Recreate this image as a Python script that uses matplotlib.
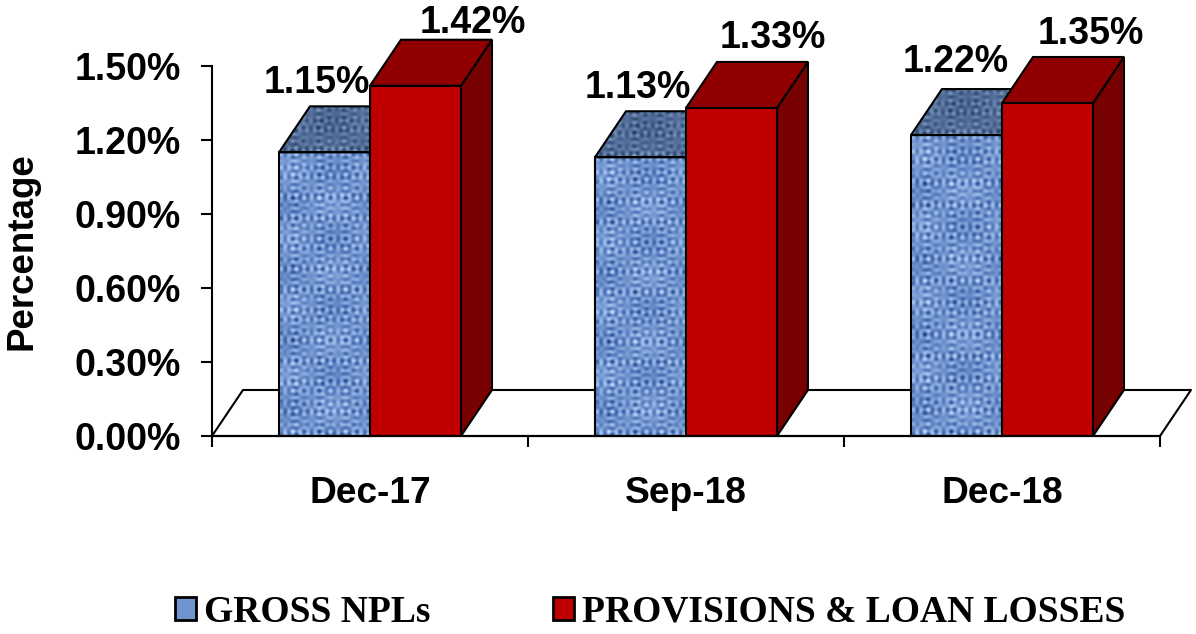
import matplotlib
matplotlib.use("Agg")
import matplotlib.pyplot as plt
import numpy as np
from matplotlib.colors import LinearSegmentedColormap
from matplotlib.patches import Patch, Polygon

categories = ["Dec-17", "Sep-18", "Dec-18"]
gross_npls = [1.15, 1.13, 1.22]
provisions = [1.42, 1.33, 1.35]
y_ticks = [0.0, 0.3, 0.6, 0.9, 1.2, 1.5]

FIG_W, FIG_H = 1196, 634
AX_L, AX_R, AX_T, AX_B = 212, 1160, 66, 436
BAR_W = 0.288
DEPTH_X = 0.098
DEPTH_Y = 0.1865
SANS = "Liberation Sans"
SERIF = "Liberation Serif"

# label nudges in pixels, relative to the front face top centre
blue_nudge = [(-8, 69), (-3, 69), (-1, 73)]
red_nudge = [(57, 63), (41, 70), (43, 69)]

front_cmap = LinearSegmentedColormap.from_list(
    "weave", ["#1f3f80", "#5379bb", "#8fb0e2", "#cfe0fa"]
)
top_cmap = LinearSegmentedColormap.from_list(
    "weave_top", ["#1f3156", "#415c86", "#6580aa", "#a3b6d3"]
)


def weave(w, h):
    # woven look for the blue faces, not data
    yy, xx = np.mgrid[0:h, 0:w]
    tex = (
        np.sin(xx * 0.83) * (np.sin(yy * 0.17) + np.sin(yy * 0.43 + 1))
        + np.sin(yy * 0.91) * (np.sin(xx * 0.13) + np.sin(xx * 0.37 + 2))
        + 0.5 * np.sin(xx * 0.07 + 1) * np.sin(yy * 0.09)
    )
    return tex


fig = plt.figure(figsize=(FIG_W / 100, FIG_H / 100), dpi=100)
ax = fig.add_axes([
    AX_L / FIG_W,
    1 - AX_B / FIG_H,
    (AX_R - AX_L) / FIG_W,
    (AX_B - AX_T) / FIG_H,
])

x = np.arange(len(categories))

# floor
ax.plot(
    [-0.5, -0.5 + DEPTH_X, 2.5 + DEPTH_X, 2.5],
    [0, DEPTH_Y, DEPTH_Y, 0],
    color="black", lw=1.5, clip_on=False, zorder=1,
)


def add_box(left, value, face, top, side, zorder):
    right = left + BAR_W
    side_poly = Polygon(
        [(right, 0), (right + DEPTH_X, DEPTH_Y),
         (right + DEPTH_X, value + DEPTH_Y), (right, value)],
        closed=True, facecolor=side, edgecolor="black", lw=1.5,
        clip_on=False, zorder=zorder,
    )
    top_poly = Polygon(
        [(left, value), (left + DEPTH_X, value + DEPTH_Y),
         (right + DEPTH_X, value + DEPTH_Y), (right, value)],
        closed=True, facecolor=top, edgecolor="black", lw=1.5,
        clip_on=False, zorder=zorder,
    )
    ax.add_patch(side_poly)
    ax.add_patch(top_poly)
    bar = ax.bar(
        left, value, BAR_W, align="edge", facecolor=face,
        edgecolor="black", lw=1.5, zorder=zorder + 0.2,
    )[0]
    return bar, top_poly


for i in x:
    bar, top_poly = add_box(
        i - BAR_W, gross_npls[i], "#6f94cf", "#47638f", "#2f4a78", 2
    )
    bar.set_clip_on(False)
    img = ax.imshow(
        weave(92, 290), cmap=front_cmap, extent=(i - BAR_W, i, 0, gross_npls[i]),
        aspect="auto", interpolation="bilinear", zorder=2.1,
    )
    img.set_clip_path(bar)
    bar.set_facecolor("none")
    img_top = ax.imshow(
        weave(125, 48), cmap=top_cmap,
        extent=(i - BAR_W, i + DEPTH_X, gross_npls[i], gross_npls[i] + DEPTH_Y),
        aspect="auto", interpolation="bilinear", zorder=2.1,
    )
    img_top.set_clip_path(top_poly)
    # outline again, the picture covers the polygon edge
    top_poly.set_zorder(2.15)
    top_poly.set_facecolor("none")

    add_box(i, provisions[i], "#c00000", "#900000", "#770000", 3)

ax.set_xlim(-0.5, 2.5)
ax.set_ylim(0, 1.5)

for i in x:
    ax.annotate(
        f"{gross_npls[i]:.2f}%", (i - BAR_W / 2, gross_npls[i]),
        xytext=(blue_nudge[i][0] * 0.72, blue_nudge[i][1] * 0.72),
        textcoords="offset points", ha="center", va="center",
        fontsize=27, fontweight="bold", family=SANS, zorder=5,
    )
    ax.annotate(
        f"{provisions[i]:.2f}%", (i + BAR_W / 2, provisions[i]),
        xytext=(red_nudge[i][0] * 0.72, red_nudge[i][1] * 0.72),
        textcoords="offset points", ha="center", va="center",
        fontsize=27, fontweight="bold", family=SANS, zorder=5,
    )

ax.set_yticks(y_ticks)
ax.set_yticklabels(
    [f"{v:.2f}%" for v in y_ticks],
    fontsize=27, fontweight="bold", family=SANS,
)
ax.set_xticks([-0.5, 0.5, 1.5, 2.5])
ax.set_xticklabels([])
ax.set_xticks(x, minor=True)
ax.set_xticklabels(
    categories, minor=True, fontsize=26.7, fontweight="bold", family=SANS
)
ax.tick_params(axis="y", length=8, width=1.5, pad=14.5)
ax.tick_params(axis="x", which="major", length=8, width=1.5)
ax.tick_params(axis="x", which="minor", length=0, pad=28.5)

ax.spines["top"].set_visible(False)
ax.spines["right"].set_visible(False)
ax.spines["left"].set_linewidth(1.5)
ax.spines["bottom"].set_linewidth(1.6)
ax.spines["bottom"].set_zorder(4)

fig.text(
    22 / FIG_W, 1 - 251 / FIG_H, "Percentage", rotation=90,
    ha="center", va="center", fontsize=26.5, fontweight="bold", family=SANS,
)

handles = [
    Patch(facecolor="#6f94cf", edgecolor="black", lw=2),
    Patch(facecolor="#c00000", edgecolor="black", lw=2),
]
fig.legend(
    handles, ["GROSS NPLs", "PROVISIONS & LOAN LOSSES"],
    ncols=2, frameon=False, loc="center left",
    bbox_to_anchor=(141 / FIG_W, 1 - 612 / FIG_H),
    handlelength=0.56, handleheight=0.56, handletextpad=0.22,
    columnspacing=3.27,
    prop={"family": SERIF, "weight": "bold", "size": 27},
)

fig.savefig("out.png", dpi=100)
plt.close(fig)
